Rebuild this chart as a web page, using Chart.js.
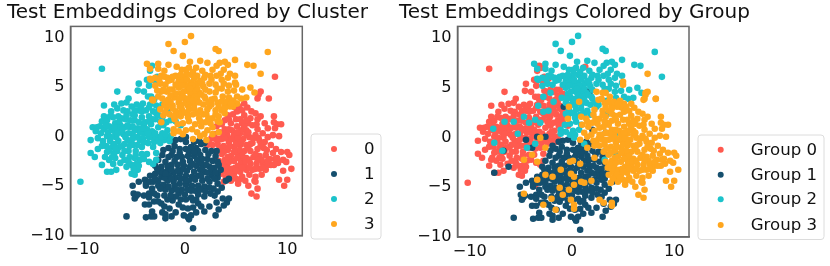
<!DOCTYPE html>
<html><head><meta charset="utf-8">
<style>html,body{margin:0;padding:0;background:#fff;width:830px;height:266px;overflow:hidden}
canvas{position:absolute;top:0}</style>
<script src="https://cdn.jsdelivr.net/npm/chart.js@4/dist/chart.umd.min.js"></script>
</head><body>
<div style="position:absolute;left:0;top:0;width:392px;height:266px"><canvas id="a"></canvas></div>
<div style="position:absolute;left:392px;top:0;width:438px;height:266px"><canvas id="b"></canvas></div>
<script>
const titleA="Test Embeddings Colored by Cluster";
const titleB="Test Embeddings Colored by Group";
const clusterLabels=["0","1","2","3"];
const groupLabels=["Group 0","Group 1","Group 2","Group 3"];
const palette=["#FF5A4F","#154F6E","#1CC3CB","#FFA61E"];
const xTicks=[-10,0,10];
const yTicks=[-10,-5,0,5,10];

const cluster0Teal=[[8.8,5.9]];
const cluster0Orange=[[7.4,4.4],[7.2,4.1],[7.1,3.7],[8.2,3.7],[5.8,3.2],[5.3,2.9],[6.5,2.4],[6.9,2.2],[7.4,1.9],[8.7,1.9],[8.7,1.3],[9.0,1.1],[9.4,1.1],[8.8,.7],[8.1,.7],[7.8,1.2],[7.1,1.6],[6.4,1.7],[5.8,2],[5.1,2.4],[4.7,2.1],[4.2,2],[3.9,1.5],[3.6,1.1],[3.1,.9],[3.4,.3],[2.9,.1],[2.6,-.3],[2.2,-1],[2.7,-1],[3.2,-.9],[3.6,-.4],[4.1,.1],[4.6,.5],[5.1,.9],[5.6,1.2],[4.5,1.2],[5,1.6],[4.8,.1],[5.4,.2],[6,.5],[6.6,1],[7.1,.6],[7.6,.2],[6.9,0],[7.3,-.6],[6.3,-.2],[5.7,-.4],[5,-.6],[4.3,-.7],[3.8,-1.1],[3.1,-1.6],[3.6,-1.9],[4.2,-1.5],[4.8,-1.2],[5.4,-1],[6,-1],[6.6,-.8],[7.8,-.7],[8.1,-.2],[8.6,0],[9.2,-.1],[8.4,-1],[8.9,-1.4],[9.4,-1.7],[7.7,-1.3],[7.1,-1.4],[6.4,-1.6],[5.8,-1.6],[5.1,-1.8],[4.5,-2.1],[3.9,-2.5],[3.3,-2.6],[3.5,-3.2],[4.1,-3],[4.8,-2.6],[5.4,-2.3],[6,-2.3],[6.7,-2.2],[7.3,-2.1],[7.9,-2],[8.3,-2.4],[8.8,-2.4],[9.1,-2.8],[9.6,-2.5],[10,-1.7],[10.2,-2],[9.9,-2.7],[10.4,-3.4],[9.6,-3.6],[10,-4.5],[9.2,-4.5],[9.7,-5.1],[8.7,-3],[8.1,-3],[7.6,-2.8],[7,-2.9],[6.4,-2.9],[5.8,-3],[5.2,-3.1],[4.5,-3.4],[4,-3.6],[3.6,-3.9],[4.2,-4.1],[4.8,-3.9],[5.4,-3.7],[6,-3.5],[6.6,-3.5],[7.3,-3.4],[7.9,-3.5],[7.5,-4],[6.9,-4.2],[6.3,-4],[5.6,-4.2],[5,-4.4],[4.5,-4.6],[5.2,-4.9],[5.9,-4.6],[6.8,-4.6],[6.2,-5.1],[6.9,-4.7],[7.1,-5.4],[6.5,-5.9],[7,-6.2],[4.2,-.2],[4.9,-.1],[5.5,.5],[6,.1],[3.9,.6],[4.3,1.6],[6.2,1.2],[7,1.1],[2.4,-.8],[3,-.4],[7.5,-2.5],[6.9,-1.9],[5.6,-2],[4.3,-2.7],[4.9,-3.3],[5.5,-2.7],[6.2,-1.3],[3.9,-.3],[4.6,-.4],[5.2,-.3],[4.4,-1.1],[5,-.9],[5.3,-1.5],[4.8,-1.7],[4.2,-2.2],[3.8,-1.7],[3.4,-1.3],[5.1,.3],[5.4,1.6],[4.9,2.8],[5.6,2.5],[6.1,2.8],[6,1.5],[3.7,-2.9],[3.9,-3.3],[4.4,-3.9],[5,-3.6],[5.6,-3.3],[6.3,-3.3],[6.9,-3.4],[7.6,-3.3],[8.4,-3],[9,-2.3],[8.6,-1.8],[8,-1.5],[7.4,-1.1],[7.2,-.3],[6.7,-.3],[6.2,.3],[5.8,.9],[4.3,.6],[3.3,-.4],[3.7,.2],[5.5,-.7],[6.4,-.9],[5.9,-2.6],[5.1,-2.3],[6.3,-2.5],[7.1,-2.5],[8.1,-2.6],[4.7,-4.2],[5.3,-4.5],[4,-4.3],[3.8,-4.7]];

const cluster1=[[.8,-9.4],[-5.7,-8.2],[-3.8,-8.3],[-3.3,-8.2],[-3,-8.2],[-2.2,-7.8],[-1.9,-8],[-1.9,-8.4],[-1.3,-8.2],[-.9,-7.8],[-.1,-8.1],[.4,-8.5],[.6,-8.1],[1.1,-7.8],[1.9,-7.7],[3,-8.1],[3.3,-7.5],[2.4,-7.2],[3.1,-6.8],[3.8,-7.1],[4.1,-6.8],[3.7,-6.4],[4.3,-6.4],[2.9,-6.1],[3.2,-5.7],[2.8,-5.4],[3.6,-5.3],[4,-4.6],[4.3,-4.4],[3.2,-4.9],[-5.1,-5.1],[-5,-5.9],[-4.8,-6.2],[-4.9,-6.4],[-4.6,-6],[-4.5,-4.7],[-3.9,-4.5],[-3.8,-5.1],[-3.5,-5.9],[-3.9,-7],[-3.5,-7],[-3,-6.7],[-2.7,-6.1],[-2.3,-6.9],[-2,-7.2],[-1.5,-7.4],[-1.2,-6.6],[-.6,-7],[-.2,-7.3],[.3,-7.4],[.8,-7.3],[1.3,-6.9],[1.9,-6.2],[1.3,-6],[.6,-6.3],[0,-6],[-.6,-5.9],[-1.3,-5.6],[-1.9,-5.5],[-2.6,-5.1],[-3.1,-4.7],[-3.4,-4.1],[-2.9,-3.9],[-2.3,-4.2],[-1.7,-4.6],[-1.1,-4.7],[-.5,-4.9],[.1,-5],[.7,-5.1],[1.3,-5.1],[1.9,-5.2],[2.4,-4.7],[2.6,-4.1],[3.2,-3.9],[3.5,-3.5],[2.9,-3.3],[2.4,-3.2],[1.9,-3.7],[1.3,-4.1],[.7,-4.2],[.1,-4.1],[-.5,-3.9],[-1.1,-3.8],[-1.7,-3.6],[-2.3,-3.2],[-2.9,-3.1],[-1.9,-2.7],[-1.3,-3],[-.7,-3],[-.1,-3.1],[.5,-3.2],[1.1,-3.1],[1.6,-2.9],[2.2,-2.4],[2.7,-2.6],[3.2,-2.7],[3,-2.1],[3.1,-1.6],[2.6,-1.6],[2,-1.5],[1.5,-2],[.9,-2.1],[.3,-2.1],[-.3,-2.2],[-.8,-2.2],[-1.3,-2],[-2.2,-2],[-2.6,-2.5],[-1.6,-1.3],[-1,-1.1],[-.5,-1.4],[.1,-1.4],[.6,-1.2],[1.1,-1.3],[1.6,-.9],[1.9,-.8],[-.9,-.5],[-.4,-.4],[.1,-.7],[-1.3,-.6],[.1,-.2],[.9,-.7],[1.4,-.6],[-3.8,-4.9],[-3.2,-5.4],[-2.6,-4.6],[-2,-6.1],[-1,-5.1],[-.3,-5.5],[.3,-5.5],[1,-5.6],[1.7,-4.6],[.4,-4.6],[-.9,-4.3],[-1.5,-4.1],[-2.1,-5],[-3,-5.9],[-4,-6.1],[-3.2,-7.7],[-.9,-6.2],[.8,-6.6],[1.6,-7.2],[2.5,-5.9],[2.4,-5.3],[1.5,-3.5],[2.2,-3.8],[.9,-3.7],[-.3,-3.5],[-1.7,-3.1],[-2.5,-3.7],[3.3,-3],[.5,-2.6],[-.2,-2.7],[-1,-2.6],[1.2,-2.5],[2.7,-3.7],[3.2,-4.3],[.3,-8.3],[-1.7,-6.5],[-.4,-6.5],[-3.4,-4.7],[-2.9,-4.4],[-2.2,-3.7],[-1.3,-3.5],[-.7,-3.6],[.2,-3.6],[.7,-2.9],[1.7,-3.4],[2.1,-3],[2.6,-3.4],[3,-3.8],[2.9,-4.4],[2.2,-4.4],[1.6,-4.1],[1,-4.5],[.1,-4.6],[-.4,-4.4],[-1.3,-4.4],[-2,-4.3],[-2.4,-5.4],[-1.6,-5.2],[-.8,-5.5],[.6,-5.6],[1.5,-5.5],[2,-5.7],[-3.5,-6.3],[-2.6,-6.7],[-1.4,-6.1],[.1,-6.5],[1.1,-6.5],[-1.9,-3.9],[-2.7,-3.4],[-1.6,-2.2],[-.5,-1.8],[.4,-1.7],[1.3,-1.6],[2.3,-1.9],[1.7,-2.4],[-1.2,-1.6],[.9,-1.7],[-2.1,-1.5]];

const cluster2=[[-8.1,6.7],[-3.2,7],[-6.6,4.4],[-4.5,5.2],[-3.4,5.5],[-4.6,4.5],[-4,4.4],[-3.7,5.6],[-3.5,5],[-3.6,3.9],[-3,3.6],[-10.2,-4.7],[-9,.8],[-8.6,.8],[-8.7,.4],[-9.2,-.5],[-9.2,-1.8],[-8.8,-2.2],[-8.5,-1.4],[-8.1,-3],[-7.6,-3.7],[-7.2,-3.7],[-6.7,-3.5],[-7.8,-2.2],[-7.6,-1.7],[-7,-2.9],[-6.8,-2.3],[-5.7,-3.2],[-5.2,-3.9],[-4.9,-4],[-4.6,-3.5],[-4.7,-2.9],[-4.4,-2.5],[-4.9,-2.3],[-3.7,-1.9],[-2.8,-1.8],[-3.1,-2.9],[-2.8,-2.5],[-5.2,-3],[-4.5,-3.1],[-5,-3.4],[-5.5,3.7],[-6.2,3.2],[-6.9,3.1],[-7.9,3],[-5.7,3.3],[-6.6,2.7],[-7.2,2.4],[-7.9,1.9],[-8.1,1.4],[-7.6,1.5],[-8.3,.9],[-7.9,.6],[-8.2,.2],[-8.5,-.3],[-8,-.6],[-7.6,-.1],[-7.1,.5],[-6.8,1.2],[-6.5,1.9],[-6,2.5],[-5.2,2.9],[-4.7,3.1],[-4.1,3.2],[-3.4,3.1],[-2.8,3],[-2.5,2.6],[-3.1,2.4],[-3.8,2.5],[-4.5,2.5],[-5.1,2.1],[-5.8,1.6],[-6.3,1],[-6.8,.3],[-7.3,-.6],[-7.7,-1.1],[-7.1,-1.2],[-6.5,-.6],[-6,.1],[-5.4,.8],[-4.9,1.5],[-4.2,1.8],[-3.5,1.9],[-2.9,1.6],[-2.2,1.8],[-2.1,1],[-1.7,.5],[-2.2,.2],[-2.6,.8],[-3.3,1.1],[-4,1],[-4.6,.7],[-5.1,.1],[-5.6,-.5],[-6.1,-1.1],[-6.6,-1.6],[-6.1,-2],[-5.5,-1.6],[-5,-1],[-4.4,-.5],[-3.9,.2],[-3.2,.4],[-2.7,-.2],[-2,-.5],[-1.6,-.2],[-1.4,-.1],[-2.4,-.8],[-3,-.7],[-3.6,-.8],[-4.2,-1.2],[-4.8,-1.6],[-5.4,-2.2],[-6.3,-2.8],[-6.9,-1.8],[-7.4,-2.5],[-5.9,-.9],[-5.3,-.6],[-6.3,.3],[-6.7,-.2],[-7.4,.9],[-5.9,.8],[-5.3,1.5],[-4.5,1.3],[-3.7,.6],[-3.2,-.2],[-4.6,-.2],[-3.5,2.8],[-4.3,2.9],[-5.1,.9],[-5.6,2.4],[-6.2,1.7],[-7,1.8],[-7.5,.3],[-6.9,-.9],[-8.1,-1.1],[-1.8,1.3],[-1.4,1.5],[-1.7,2.4],[-2.2,3.1],[-3.9,1.3],[-2.6,-.5],[-3.1,-1.2],[-.9,1.4],[-.4,1],[-1.5,-.6],[-2.8,2.2],[-4.9,2.5],[-6.6,.8],[-5.5,.2],[-4.1,-.3],[-5.9,-1.6],[-3.3,3.9],[-2.9,5.5],[-2.7,5.9],[-3.4,6.5],[-7.7,1],[-7.3,1.9],[-6.9,.8],[-6.4,1.4],[-5.7,2],[-4.9,2],[-4.2,2.4],[-3.2,1.6],[-2.6,2],[-2.4,1.4],[-3.5,1.4],[-4.4,.3],[-4.9,.5],[-5.6,1],[-6.1,.6],[-6.6,.2],[-7.2,-.2],[-7.4,-1.6],[-7.1,-2.2],[-6.4,-1.2],[-5.8,-.2],[-5.1,-.4],[-4.6,-1],[-4,-.7],[-3.5,-.2],[-2.9,.2],[-2.3,-.2],[-1.9,.1],[-3.6,.2],[-4.2,.7],[-5.4,-1.1],[-6.8,-1.3],[-5.9,-2.5],[-5.5,-2.7],[-4.8,-2],[-4.2,-1.9],[-4,-2.4],[-3.5,-2.7]];

// Orange-cluster points split by the group colour they wear on the right
const cluster3Teal=[[-1.6,9.2],[-1.1,8.5],[0,9.4],[.6,10],[-.2,8],[3,8.7],[3.3,8.5],[8.1,8.4],[-3.7,7.2],[-3.4,6.7],[-2.6,7.2],[-2.6,6.7],[-1.6,7.1],[.5,7.4],[1.5,7.5],[2.2,7.3],[4.9,7.6],[6.1,7.1],[6.7,7],[3.4,7.3],[3.9,7.4],[4.2,7.1],[3.1,7],[2.7,6.6],[3.8,6.6],[4.4,6.2],[4.2,5.8],[4.9,6],[4.9,5.3],[4.3,5],[3.6,5.6],[3.1,6],[2.5,6],[1.7,6.5],[1.1,6.8],[.4,6.8],[-.3,6.6],[-.9,6],[-1.7,5.8],[-2.3,6],[-2.9,5.8],[-3.4,5.7],[-2.9,5],[-2.4,5.2],[-1.9,5.1],[-1.3,5.6],[-.6,5.5],[0,5.9],[.6,6.1],[1.2,6],[1.9,5.8],[2.4,5.2],[3,5.1],[3.6,4.7],[1.8,4.9],[1.2,5.2],[.6,5.3],[0,5.1],[-.6,4.8],[.2,4.5],[.8,4.7],[1.4,4.3],[.6,3.9],[0,3.7],[-.6,3.3],[-.4,4.2],[-1,3.8],[.3,3],[.9,3.1],[-.3,2.6],[.2,2.2],[-.4,1.9],[-.7,1.1],[-.2,1.2],[.4,1.4],[.1,.5],[-.6,.4],[-1.1,.6],[-1.1,.2],[-.2,.1],[.7,.6],[-3.3,5.6],[-2,5.9],[-.8,6.9],[.2,6.2],[.9,5.7],[-.2,5.5],[-.9,5.1],[.3,4.9],[.9,4.4],[-.1,4.4],[.5,4.3],[1,3.9],[.1,3.3],[.5,3.4],[-.3,3.1],[1.7,5.2],[1.2,4.7],[2.6,5.6],[3.2,4.7],[-.6,5.9],[.1,6.6],[-2,6.5],[.7,5],[.2,5.6],[-.3,5],[.5,4.7],[-.2,3.9],[.3,3.7],[-.5,3.7],[.8,3.5],[.4,2.6],[-.1,2.3],[-.6,2.2],[1.5,5.5],[.8,6.4],[-.4,6.1],[-1.2,5.9],[2,6.1],[1.2,3.9],[-1.6,5.5],[-2.5,5.6],[3.5,6.2],[3.8,5.2],[4.2,4.4],[4.8,4.5],[4.3,3.8],[5.1,3.9],[5.5,3.7],[5.6,4.6],[6.4,4.8],[6.8,4.3],[6,3.8],[2,4.6],[1.6,4.1],[1.9,3.9],[1.2,3.6],[1.4,3.3],[2,3.7],[2.4,2.9],[1.8,3.1],[1.2,2.2],[.9,2.7],[1.8,2.1],[2.6,3.1],[2.3,3.3],[.3,1.8],[.8,2.1],[1.5,2.5]];
const cluster3Red=[[-2.3,4.4],[-2.6,3.9],[-3.2,3.6],[-3.1,3.5],[-2.2,3.7],[-1.6,3.6],[-1.2,4.6],[-1.8,4.4],[-1.2,3],[-1.8,2.8],[-2,3.1],[-2.1,2],[-2.3,1.3],[-1.5,2.1],[-.9,2.4],[-1,1.6],[-.9,4.2],[-1.4,4],[-1.6,3.1],[-.9,2],[-.5,2.9],[-1.4,3.4],[-1.9,3.4],[-2.4,2.6],[-1.9,2.3],[-1.2,2.7],[-1.1,1.9],[-1.5,4.6],[-2.1,4.6],[-2.7,4.5]];
const cluster3Orange=[[7.4,6.2],[5.1,3.2],[5,3.2],[4.7,2.9],[5,5.1],[3,4.3],[2.4,4.4],[2.6,3.6],[3.2,3.3],[3.9,3.1],[4.4,2.9],[3.6,2.5],[3,2.5],[3.7,3.9],[2.1,2.1],[2.7,1.7],[3.3,1.9],[3.9,2.2],[3.4,1.3],[2.7,.8],[2,1.3],[1.4,1.7],[1,1.1],[1.6,.9],[2.2,.5],[1.9,.1],[3.3,.3],[2.7,.1],[1.2,.3],[.8,-.4],[2.1,-.5],[1.5,-.1],[2.9,3.7],[3.6,3.4],[2.2,2.6],[1.5,1.4],[2.5,1.2],[3,2.1],[4.1,3.4],[4.7,3.5],[3.3,2.9],[3.9,2.7],[4.5,3.2],[2.3,1.7],[3.2,1.4]];

const extraGroup0=[[-3,6.8],[-2.3,5.7],[1.3,6.9],[-7.9,-2.4],[-3.6,-5],[-3.2,-.4],[-4.2,-.9],[-3.6,-1.3],[-.9,-2.3],[-2,.4],[-1.3,1]];
const extraGroup1=[[1.8,4.6],[1.7,4.2],[-.8,2.9],[-2.6,-.1],[-3.4,-.1],[-4.5,-.4],[-3.9,-1.2],[-7.6,-3.7],[-6.7,-1.5],[-6.2,-3.1],[-1.9,-1],[3.3,.3],[2,.6]];
const extraGroup2=[[-4.4,-1.2],[-6.8,-1.5],[-7.6,-.7],[1.2,-.8],[2.4,-.9],[3.2,-2.4],[4.3,-1.8],[4.4,.3],[-3.6,-.8],[-4.2,1.3],[-5.7,1.4],[-7.7,.7],[-6.6,1.4],[-5.3,.2],[-3.1,1.3],[-4.7,1.9],[-3.6,1.6],[-2.8,2.4],[-3.3,3],[-2.3,2.5],[-1.8,3.4],[-2.8,3.9],[-2.1,4.3],[3.5,2.2],[3.4,3.5],[.9,1.1],[.3,.1],[.2,-.2]];
const extraGroup3=[[7.2,4.3],[7,3.6],[8.2,3.7],[5,5.4],[3.3,4.3],[.7,3.4],[-.3,2.9],[-.4,1.7],[.9,1.9],[-3.1,-.2],[-2.6,-1.2],[-3.9,-1.9],[-4.7,-2.4],[-3.4,-2.6],[-3.4,-4.4],[-2.6,-3.9],[-1.9,-4.1],[-1.1,-3.4],[-.2,-2.6],[.1,-2.5],[-.1,-3.8],[.2,-4.1],[.8,-2.8],[1.5,-1.2],[2.2,-2.2],[-4.7,-5.8],[-2.8,-6.9],[-2,-6.3],[-1.6,-7.4],[-1.2,-5.2],[-.9,-5.9],[-.3,-5.4],[.2,-4.9],[.9,-4.6],[1.2,-4.7],[1.9,-4.5],[-.1,-6.4],[.2,-6.9],[.2,-7.3],[2.7,-6.4],[3.1,-6.7],[3.9,-7],[3.9,-6.7]];

const fmtFont=(s)=>({family:"'DejaVu Sans'",size:s,weight:'normal'});
function cloud(pts){return pts.map(p=>({x:p[0],y:p[1]}));}

const framePlugin={id:'frame',afterDraw(c){
  const a=c.chartArea,g=c.ctx;g.save();g.strokeStyle='#666';g.lineWidth=1.5;
  g.strokeRect(a.left,a.top,a.right-a.left,a.bottom-a.top);g.restore();}};

function legendPlugin(box,mx,tx,ys){return {id:'sideLegend',afterDraw(c){
  const g=c.ctx;g.save();
  g.beginPath();g.roundRect(box[0]+.5,box[1]+.5,box[2],box[3],3);
  g.fillStyle='#fff';g.fill();g.strokeStyle='#dcdcdc';g.lineWidth=1;g.stroke();
  g.font="16.6px 'DejaVu Sans'";g.textBaseline='middle';g.textAlign='left';
  c.data.datasets.forEach((d,i)=>{
    g.beginPath();g.arc(mx,ys[i],3,0,Math.PI*2);g.fillStyle=d.backgroundColor;g.fill();
    g.fillStyle='#111';g.fillText(d.label,tx,ys[i]+.5);
  });
  g.restore();
}};}

function scatter(id,title,sets,names,xr,yr,pad,leg,yW,gap){
  return new Chart(document.getElementById(id),{type:'scatter',
    data:{datasets:sets.map((s,i)=>({label:names[i],order:sets.length-1-i,data:cloud(s),backgroundColor:palette[i],borderWidth:0,pointRadius:3.3,pointHoverRadius:3.3}))},
    options:{responsive:true,maintainAspectRatio:false,animation:false,
      layout:{padding:pad},
      plugins:{legend:{display:false},tooltip:{enabled:false},
        title:{display:true,text:title,align:'start',color:'#111',font:fmtFont(20),padding:{top:0,bottom:1.4}}},
      scales:{
        x:{type:'linear',min:xr[0],max:xr[1],afterBuildTicks(a){a.ticks=xTicks.map(v=>({value:v}));},
          grid:{display:false,drawTicks:true,tickLength:4,tickColor:'#444'},border:{color:'#666',width:1.5},
          ticks:{color:'#111',font:fmtFont(16.2),maxRotation:0,padding:1,autoSkip:false,callback:v=>String(v).replace('-','\u2212')},afterFit(a){a.height=pad.xH;}},
        y:{type:'linear',min:yr[0],max:yr[1],afterBuildTicks(a){a.ticks=yTicks.map(v=>({value:v}));},
          grid:{display:false,drawTicks:true,tickLength:4,tickColor:'#444'},border:{color:'#666',width:1.5},
          ticks:{color:'#111',font:fmtFont(16.2),padding:2,labelOffset:1.5,autoSkip:false,callback:v=>String(v).replace('-','\u2212')},afterFit(a){a.width=yW;}},
        gutter:{type:'linear',position:'right',grid:{display:false},border:{display:false},ticks:{display:false},afterFit(a){a.width=gap;}}
      }},
    plugins:[framePlugin,legendPlugin(...leg)]});
}
const cluster0=cluster0Orange.concat(cluster0Teal);
const cluster3=cluster3Teal.concat(cluster3Red,cluster3Orange);
const group0=cluster2.concat(cluster3Red,extraGroup0);
const group1=cluster1.concat(extraGroup1);
const group2=cluster3Teal.concat(cluster0Teal,extraGroup2);
const group3=cluster0Orange.concat(cluster3Orange,extraGroup3);
scatter('a',titleA,[cluster0,cluster1,cluster2,cluster3],clusterLabels,[-11.17,11.47],[-10.13,10.98],
  {left:7,right:0,top:1,bottom:0,xH:30.5},[[310.5,133.5,70,105],334,364,[149,174,199,224]],63.5,89.7);
scatter('b',titleB,[group0,group1,group2,group3],groupLabels,[-11.2,11.45],[-10.13,10.95],
  {left:7,right:0,top:1,bottom:0,xH:29},[[305.5,134.5,126,104.5],328.7,358.7,[149.7,174.7,199.3,225]],58.5,141);
</script>
</body></html>
